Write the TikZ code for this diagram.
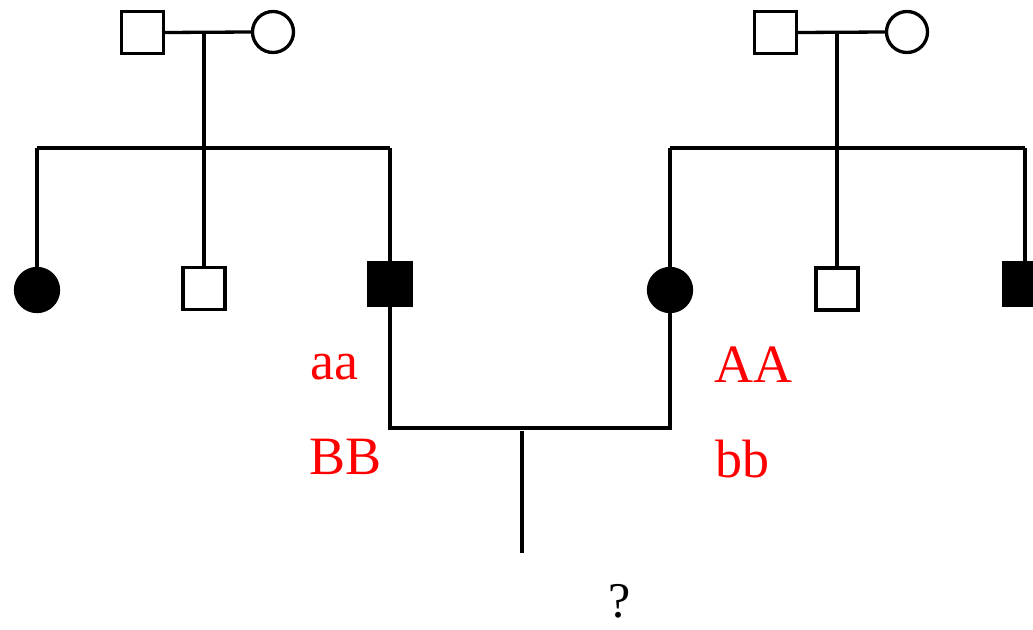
\documentclass[tikz,border=0pt]{standalone}
\usepackage{fontspec}
\setmainfont{Liberation Serif}
\begin{document}
\begin{tikzpicture}[x=1pt,y=-1pt,
  line width=3.3pt,
  male/.style={draw,rectangle,minimum size=42pt,inner sep=0pt},
  female/.style={draw,circle,minimum size=41pt,inner sep=0pt},
  affmale/.style={draw,fill=black,rectangle,minimum size=43pt,inner sep=0pt},
  afffemale/.style={draw,fill=black,circle,minimum size=43pt,inner sep=0pt},
  geno/.style={text=red,font=\fontsize{54}{60}\selectfont,anchor=base west,inner sep=0pt},
  qlabel/.style={text=black,font=\fontsize{50}{56}\selectfont,anchor=base west,inner sep=0pt}]
\useasboundingbox (0,0) rectangle (1033,629);
% left family
\node[male] (f1) at (142.5,32.5) {};
\node[female] (mo1) at (273,32) {};
\coordinate (m1) at (204,32);
\coordinate (s1) at (204,148);
\coordinate (s1L) at (37,148);
\coordinate (s1R) at (390,148);
\node[afffemale] (c11) at (37,290) {};
\node[male] (c12) at (204,288.5) {};
\node[affmale] (c13) at (390,284) {};
\draw (f1.east) -- (mo1.west);
\draw (m1) -- (s1);
\draw (s1L) -- (s1R);
\draw (s1L) -- (c11.north);
\draw (s1) -- (c12.north);
\draw (s1R) -- (c13.north);
% right family
\node[male] (f2) at (775.5,32.5) {};
\node[female] (mo2) at (907,32) {};
\coordinate (m2) at (837,32);
\coordinate (s2) at (837,148);
\coordinate (s2L) at (670,148);
\coordinate (s2R) at (1025,148);
\node[afffemale] (c21) at (670,290) {};
\node[male] (c22) at (837,289) {};
\node[affmale] (c23) at (1025,284) {};
\draw (f2.east) -- (mo2.west);
\draw (m2) -- (s2);
\draw (s2L) -- (s2R);
\draw (s2L) -- (c21.north);
\draw (s2) -- (c22.north);
\draw (s2R) -- (c23.north);
% marriage of affected children
\coordinate (bL) at (390,428);
\coordinate (bR) at (670,428);
\coordinate (bc) at (522,431);
\coordinate (q) at (522,553);
\draw (c13.south) -- (bL) -- (bR) -- (c21.south);
\draw (bc) -- (q);
% labels
\node[geno] (laa) at (309,379) {aa};
\node[geno] (lBB) at (308,474) {BB};
\node[geno] (lAA) at (713,382) {AA};
\node[geno] (lbb) at (714,477) {bb};
\node[qlabel] (lq) at (607,617) {?};
\end{tikzpicture}
\end{document}
